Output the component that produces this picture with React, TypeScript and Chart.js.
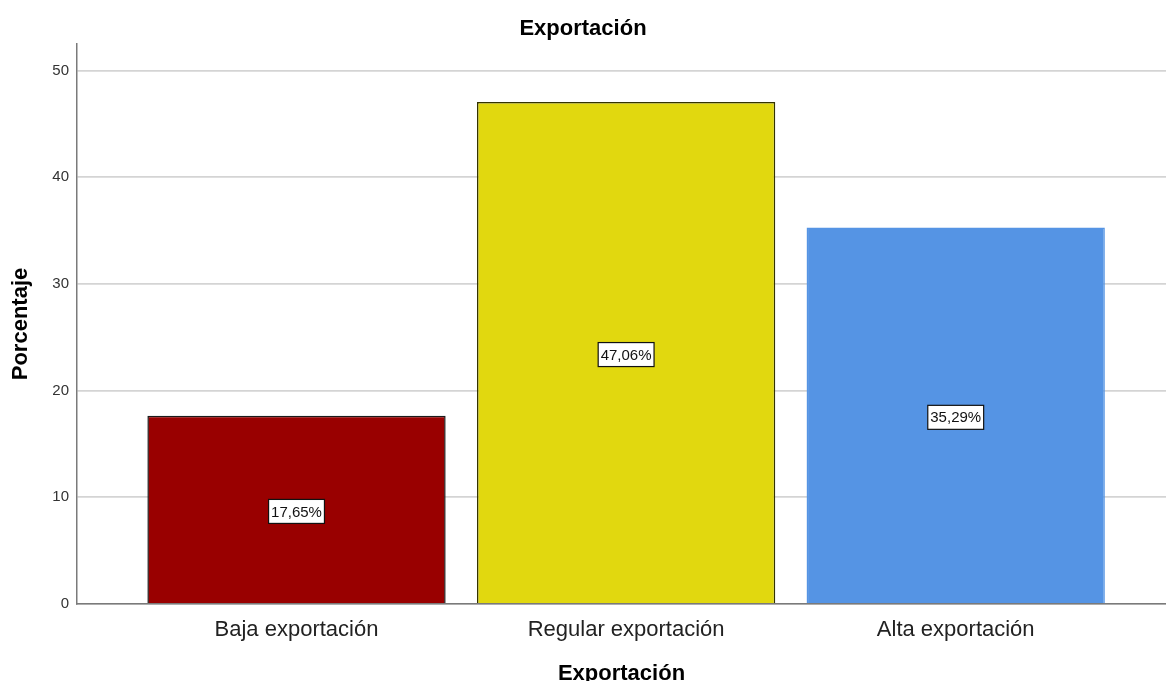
import React, { useEffect, useRef } from "react";
import { Chart, registerables } from "chart.js";

Chart.register(...registerables);

const categories = ["Baja exportación", "Regular exportación", "Alta exportación"];
const positions = [1, 2, 3];
const percentages = [17.65, 47.06, 35.29];
const valueLabels = ["17,65%", "47,06%", "35,29%"];
const yTicks = [0, 10, 20, 30, 40, 50];
const barColors = ["#990000", "#E1D80F", "#5594E4"];
const barBorders = ["#1a1a1a", "#333300", "#5594E4"];

const FONT = "'Liberation Sans', Arial, sans-serif";

const valueLabelPlugin = {
  id: "valueLabels",
  afterDatasetsDraw(chart: any) {
    const ctx = chart.ctx;
    const meta = chart.getDatasetMeta(0);
    ctx.save();
    ctx.font = `15px ${FONT}`;
    ctx.textAlign = "center";
    ctx.textBaseline = "middle";
    meta.data.forEach((bar: any, i: number) => {
      const text = valueLabels[i];
      const cx = bar.x;
      const cy = (bar.y + bar.base) / 2 + 2;
      const w = ctx.measureText(text).width + 5;
      const h = 24;
      ctx.fillStyle = "#ffffff";
      ctx.fillRect(cx - w / 2, cy - h / 2, w, h);
      ctx.strokeStyle = "#111111";
      ctx.lineWidth = 1.2;
      ctx.strokeRect(cx - w / 2, cy - h / 2, w, h);
      ctx.fillStyle = "#111111";
      ctx.fillText(text, cx, cy + 1);
    });
    ctx.restore();
  },
};

export default function App() {
  const canvasRef = useRef<HTMLCanvasElement | null>(null);

  useEffect(() => {
    if (!canvasRef.current) return;
    const chart = new Chart(canvasRef.current, {
      type: "bar",
      data: {
        datasets: [
          {
            data: positions.map((p, i) => ({ x: p, y: percentages[i] })),
            backgroundColor: barColors,
            borderColor: barBorders,
            borderWidth: 1.5,
            categoryPercentage: 1,
            barPercentage: 0.905,
          },
        ],
      },
      options: {
        animation: false,
        responsive: false,
        maintainAspectRatio: false,
        layout: { padding: 0 },
        plugins: {
          legend: { display: false },
          tooltip: { enabled: false },
          title: {
            display: true,
            text: "Exportación",
            color: "#000000",
            font: { family: FONT, size: 22, weight: "bold", lineHeight: 1.2 },
            padding: { top: 15.3, bottom: 2.3 },
          },
        },
        scales: {
          x: {
            type: "linear",
            offset: false,
            min: 0.334,
            max: 3.638,
            grid: { display: false, drawTicks: false, offset: false },
            border: { display: true, color: "#7a7a7a", width: 1.5 },
            ticks: {
              stepSize: 1,
              includeBounds: false,
              autoSkip: false,
              maxRotation: 0,
              padding: 12.3,
              color: "#222222",
              font: { family: FONT, size: 22, lineHeight: 1.2 },
              callback: (v: any) => {
                const idx = positions.indexOf(Number(v));
                return idx >= 0 ? categories[idx] : "";
              },
            },
            title: {
              display: true,
              text: "Exportación",
              color: "#000000",
              font: { family: FONT, size: 22, weight: "bold", lineHeight: 0.68 },
              padding: 0,
            },
            afterFit: (scale: any) => {
              scale.height = 77;
              scale.paddingLeft = 0;
              scale.paddingRight = 0;
            },
          },
          y: {
            type: "linear",
            min: 0,
            max: 52.5,
            afterBuildTicks: (scale: any) => {
              scale.ticks = yTicks.map((v) => ({ value: v }));
            },
            grid: { color: "#d4d4d4", lineWidth: 1.8, drawTicks: false },
            border: { display: true, color: "#7a7a7a", width: 1.5 },
            ticks: {
              padding: 8,
              color: "#333333",
              font: { family: FONT, size: 15 },
            },
            title: {
              display: true,
              text: "Porcentaje",
              color: "#000000",
              font: { family: FONT, size: 22, weight: "bold", lineHeight: 1.2 },
              padding: { top: 7.3, bottom: 0 },
            },
            afterFit: (scale: any) => {
              scale.width = 77;
              scale.paddingTop = 0;
              scale.paddingBottom = 0;
            },
          },
        },
      },
      plugins: [valueLabelPlugin],
    });
    return () => chart.destroy();
  }, []);

  return (
    <div style={{ position: "fixed", left: 0, top: 0, width: 1166, height: 681, background: "#ffffff" }}>
      <canvas ref={canvasRef} width={1166} height={681} style={{ display: "block", width: 1166, height: 681 }} />
    </div>
  );
}
